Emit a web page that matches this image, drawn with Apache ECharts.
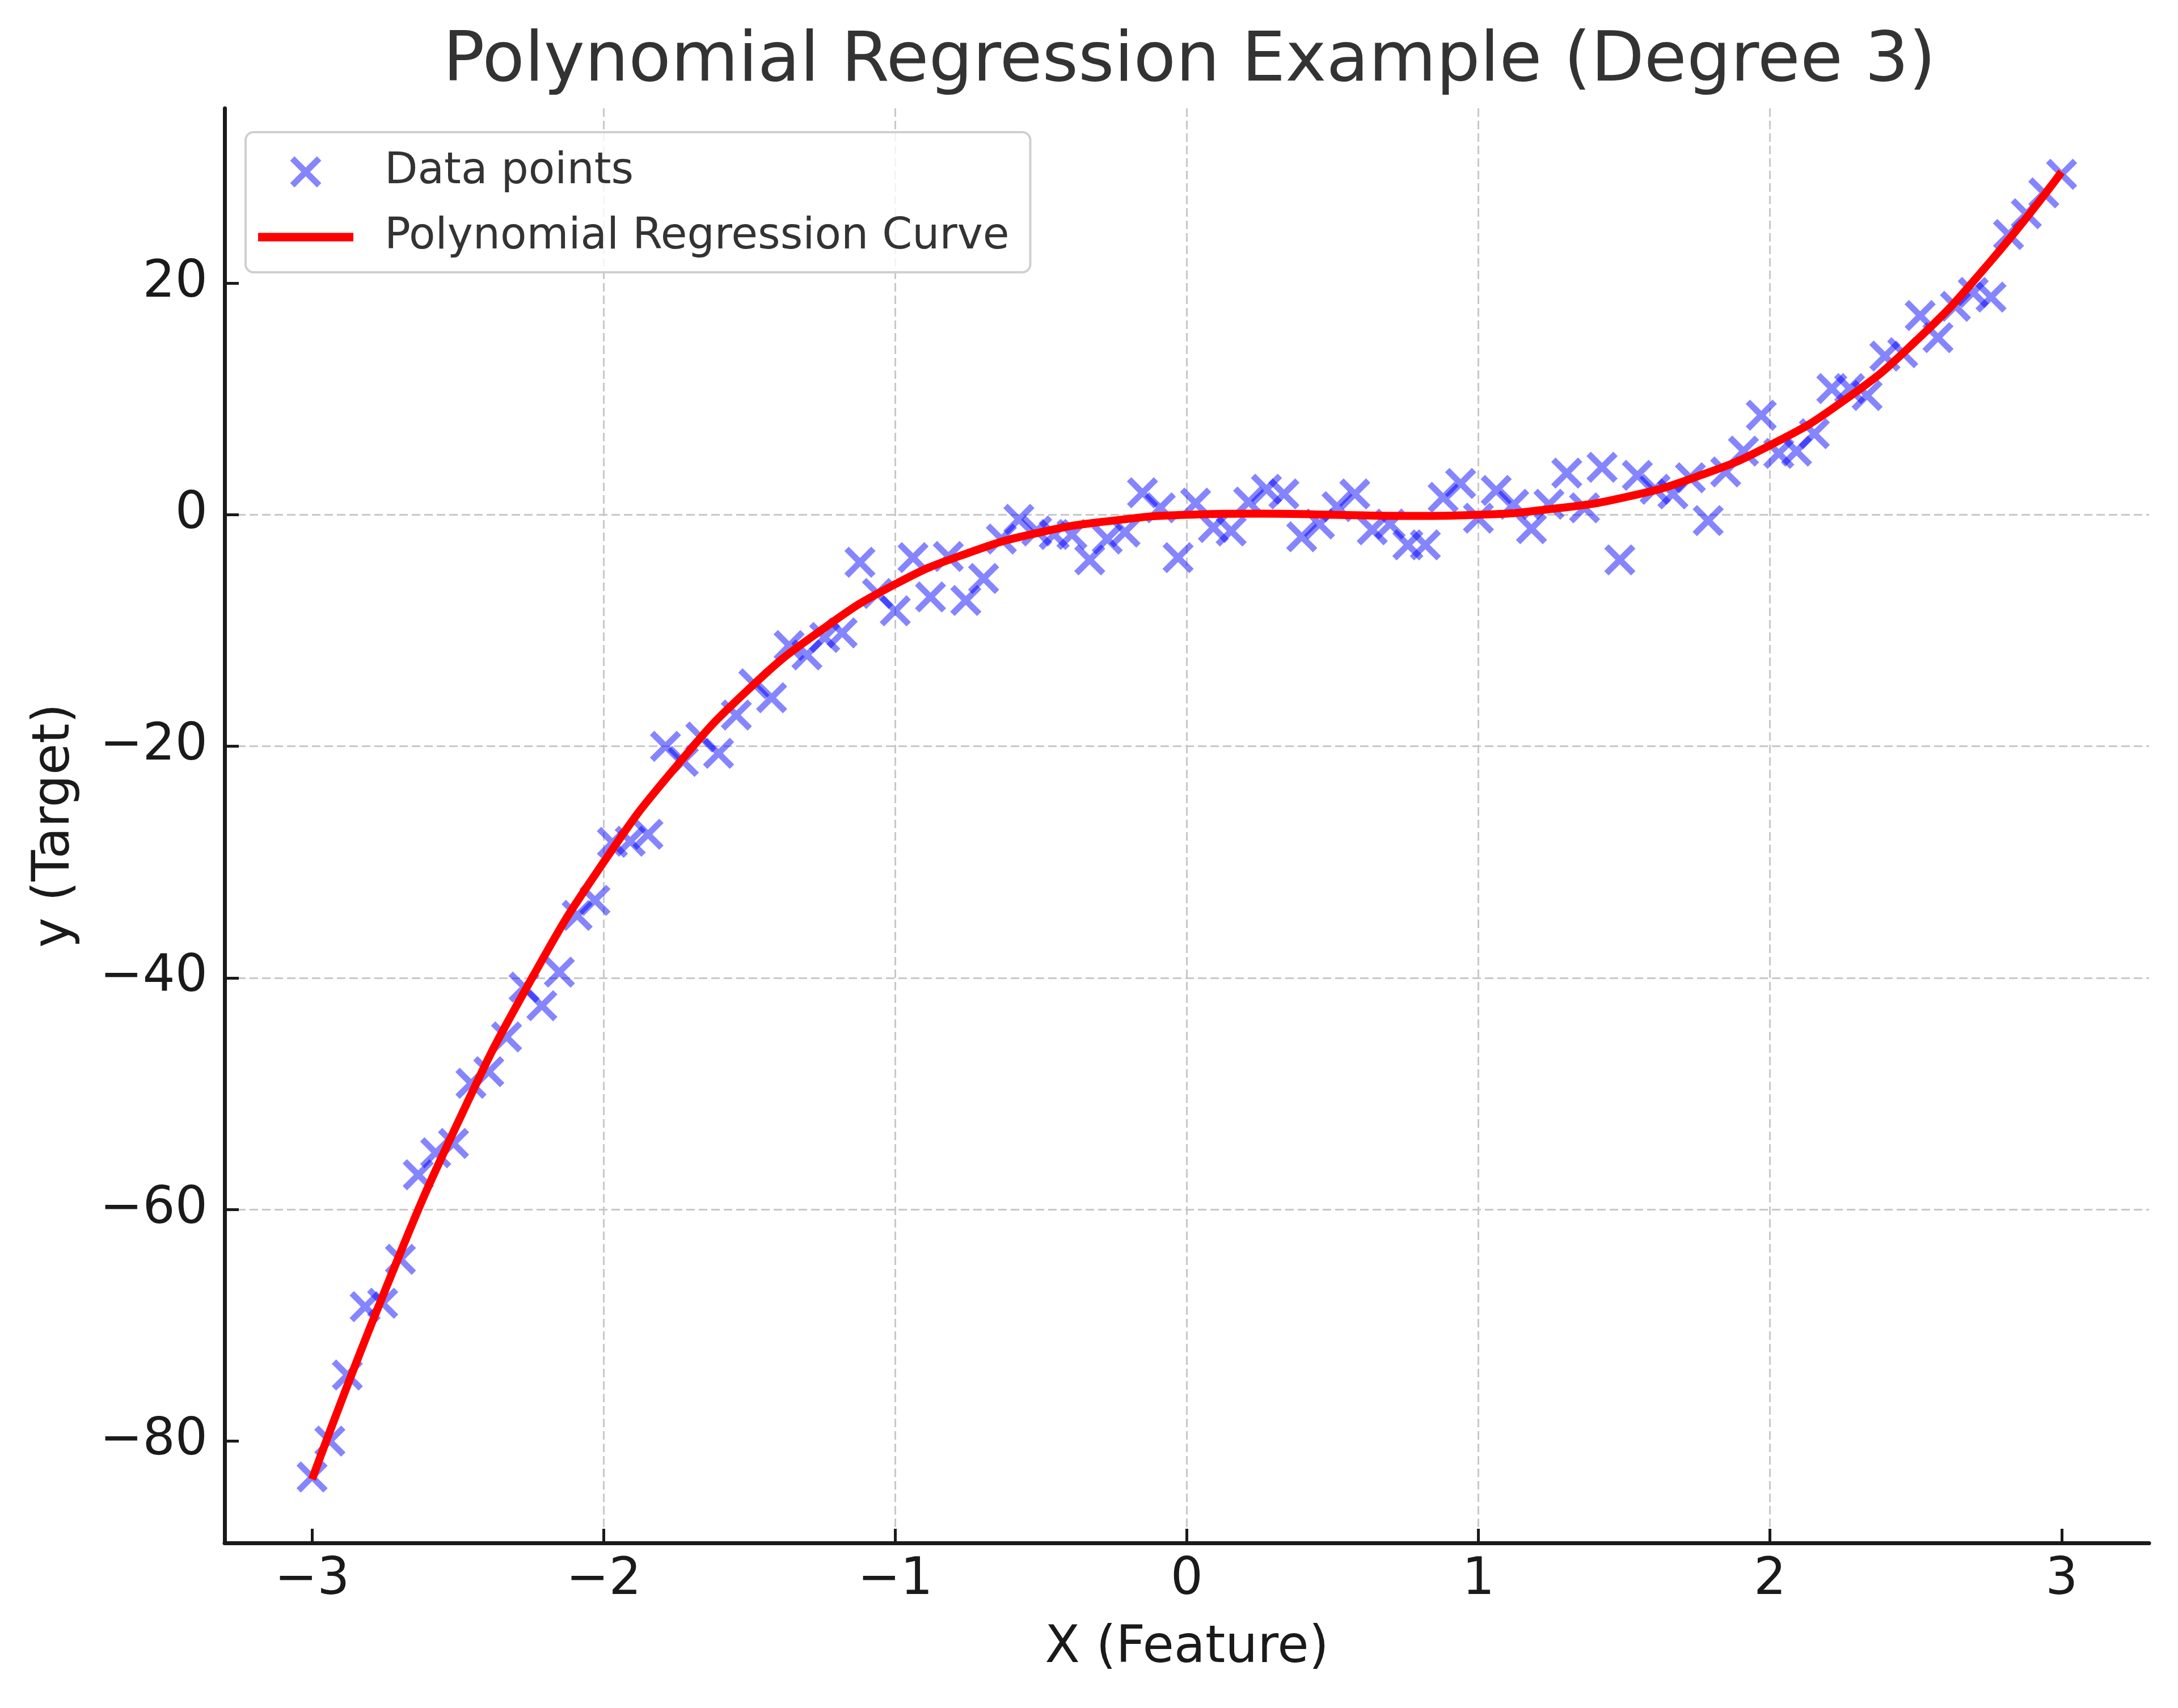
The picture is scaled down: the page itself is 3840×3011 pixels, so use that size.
<!DOCTYPE html>
<html>
<head>
<meta charset="utf-8">
<title>Polynomial Regression Example (Degree 3)</title>
<script src="https://cdn.jsdelivr.net/npm/echarts@6/dist/echarts.min.js"></script>
<style>
  html, body { margin: 0; padding: 0; background: #fff; }
  #chart { width: 3840px; height: 3011px; }
</style>
</head>
<body>
<div id="chart"></div>
<script>
// scatter samples
const xValues = [
  -3.000, -2.939, -2.879, -2.818, -2.758, -2.697, -2.636, -2.576, -2.515, -2.455,
  -2.394, -2.333, -2.273, -2.212, -2.152, -2.091, -2.030, -1.970, -1.909, -1.848,
  -1.788, -1.727, -1.667, -1.606, -1.545, -1.485, -1.424, -1.364, -1.303, -1.242,
  -1.182, -1.121, -1.061, -1.000, -0.939, -0.879, -0.818, -0.758, -0.697, -0.636,
  -0.576, -0.515, -0.455, -0.394, -0.333, -0.273, -0.212, -0.152, -0.091, -0.030,
  0.030, 0.091, 0.152, 0.212, 0.273, 0.333, 0.394, 0.455, 0.515, 0.576,
  0.636, 0.697, 0.758, 0.818, 0.879, 0.939, 1.000, 1.061, 1.121, 1.182,
  1.242, 1.303, 1.364, 1.424, 1.485, 1.545, 1.606, 1.667, 1.727, 1.788,
  1.848, 1.909, 1.970, 2.030, 2.091, 2.152, 2.212, 2.273, 2.333, 2.394,
  2.455, 2.515, 2.576, 2.636, 2.697, 2.758, 2.818, 2.879, 2.939, 3.000
]
const yValues = [
  -83.1, -80.0, -74.3, -68.4, -68.1, -64.3, -57.0, -55.1, -54.3, -49.1,
  -48.1, -45.1, -40.8, -42.4, -39.5, -34.6, -33.3, -28.3, -28.2, -27.6,
  -20.0, -21.3, -19.2, -20.6, -17.3, -14.6, -15.8, -11.3, -12.1, -10.6,
  -10.2, -4.1, -6.8, -8.3, -3.7, -7.1, -3.6, -7.4, -5.5, -2.1,
  -0.4, -1.4, -1.7, -1.7, -3.9, -2.1, -1.5, 1.9, 0.6, -3.7,
  1.0, -1.1, -1.4, 1.1, 2.2, 1.8, -1.9, -0.8, 0.7, 1.8,
  -1.3, -0.8, -2.6, -2.6, 1.5, 2.7, -0.3, 2.1, 0.9, -1.2,
  0.9, 3.6, 0.6, 4.1, -3.9, 3.4, 2.2, 1.8, 3.2, -0.5,
  3.7, 5.5, 8.6, 5.3, 5.5, 7.0, 10.9, 10.9, 10.3, 13.7,
  14.0, 17.2, 15.3, 18.0, 19.2, 18.8, 24.2, 26.0, 27.8, 29.4
]

// regression curve, read at steps of 0.25
const curveX = [
  -3.0, -2.75, -2.5, -2.25, -2.0, -1.75, -1.5, -1.25, -1.0, -0.75, -0.5, -0.25,
  0.0, 0.25, 0.5, 0.75, 1.0, 1.25, 1.5, 1.75, 2.0, 2.25, 2.5, 2.75, 3.0
]
const curveY = [
  -83.3, -67.0, -52.5, -40.2, -30.0, -21.7, -15.0, -9.9, -6.0, -3.3, -1.5, -0.5,
  0.0, 0.1, 0.0, -0.1, 0.0, 0.5, 1.5, 3.3, 6.0, 9.8, 15.0, 21.7, 29.6
]

const xTicks = [-3, -2, -1, 0, 1, 2, 3]
const yTicks = [-80, -60, -40, -20, 0, 20]

const FONT = 'DejaVu Sans'
const INK = '#1a1a1a'
const X_MARK = 'path://M14,0 L50,36 L86,0 L100,14 L64,50 L100,86 L86,100 L50,64 L14,100 L0,86 L36,50 L0,14 Z'
const LINE_MARK = 'path://M0,0 L168,0 L168,15 L0,15 Z'

const minus = v => String(v).replace('-', '\u2212')

const gridLine = {
  show: true,
  showMinLine: false,
  showMaxLine: false,
  lineStyle: { color: '#c8c8c8', width: 3, type: [15, 7] }
}

function axisBase(ticks) {
  return {
    type: 'value',
    axisLine: { show: true, onZero: false, lineStyle: { color: INK, width: 7 } },
    axisTick: {
      show: true,
      inside: true,
      length: 25,
      customValues: ticks,
      lineStyle: { color: INK, width: 5 }
    },
    axisLabel: {
      customValues: ticks,
      formatter: minus,
      fontFamily: FONT,
      fontSize: 90,
      color: INK
    },
    splitLine: gridLine,
    nameLocation: 'middle',
    nameTextStyle: { fontFamily: FONT, fontSize: 90, color: INK }
  }
}

const chart = echarts.init(document.getElementById('chart'), null, { renderer: 'canvas' })

const xAxis = axisBase(xTicks)
xAxis.min = -3.3
xAxis.max = 3.3
xAxis.name = 'X (Feature)'
xAxis.nameGap = 142
xAxis.axisLabel.margin = 22

const yAxis = axisBase(yTicks)
yAxis.min = -88.8
yAxis.max = 35.1
yAxis.name = 'y (Target)'
yAxis.nameGap = 253
yAxis.axisLabel.margin = 30

chart.setOption({
  animation: false,
  backgroundColor: '#ffffff',
  textStyle: { fontFamily: FONT },
  title: {
    text: 'Polynomial Regression Example (Degree 3)',
    left: 2092,
    top: 44,
    textAlign: 'center',
    textStyle: { fontFamily: FONT, fontSize: 122, fontWeight: 'normal', color: '#333333' }
  },
  legend: {
    orient: 'vertical',
    left: 433,
    top: 233,
    padding: [32, 37, 24, 22],
    itemWidth: 168,
    itemHeight: 55,
    itemGap: 39,
    backgroundColor: 'rgba(255,255,255,0.8)',
    borderColor: '#cfcfcf',
    borderWidth: 4,
    borderRadius: 14,
    textStyle: { fontFamily: FONT, fontSize: 76, color: '#333333', padding: [0, 0, 0, 50] },
    data: [
      { name: 'Data points', icon: X_MARK },
      { name: 'Polynomial Regression Curve', icon: LINE_MARK }
    ]
  },
  grid: { left: 396, right: 51, top: 191, bottom: 291 },
  xAxis: xAxis,
  yAxis: yAxis,
  series: [
    {
      name: 'Data points',
      type: 'scatter',
      symbol: X_MARK,
      symbolSize: 55,
      itemStyle: { color: 'rgba(0,0,255,0.6)' },
      z: 2,
      data: xValues.map((x, i) => [x, yValues[i]])
    },
    {
      name: 'Polynomial Regression Curve',
      type: 'line',
      smooth: true,
      symbol: 'none',
      showSymbol: false,
      lineStyle: { color: '#ff0000', width: 14 },
      itemStyle: { color: '#ff0000' },
      z: 3,
      data: curveX.map((x, i) => [x, curveY[i]])
    }
  ]
})
</script>
</body>
</html>
